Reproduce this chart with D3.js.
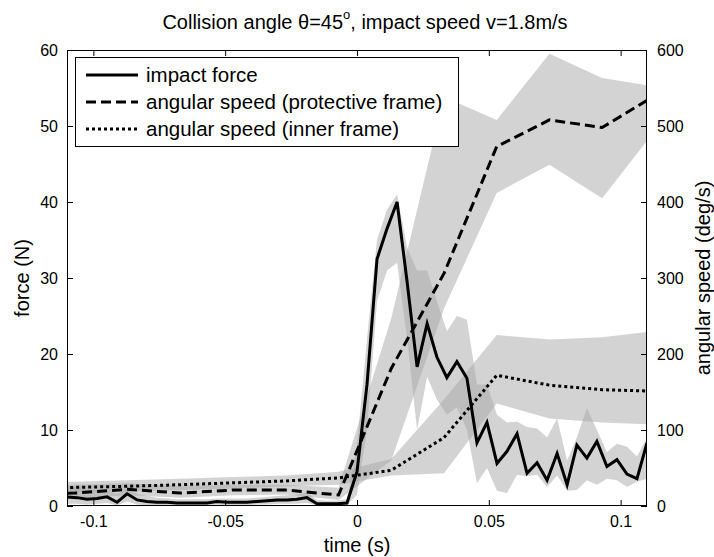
<!DOCTYPE html>
<html><head><meta charset="utf-8">
<script src="https://cdn.jsdelivr.net/npm/d3@7"></script>
<style>
body{margin:0;background:#fff}
svg{display:block}
text{font-family:"Liberation Sans",Arial,Helvetica,sans-serif;fill:#000}
</style>
</head><body>
<svg id="c" width="714" height="557"></svg>
<script>
// ---------- data ----------
const forceTime = [-0.11,-0.1062,-0.1024,-0.0986,-0.0948,-0.0910,-0.0872,-0.0834,-0.0797,-0.0759,
  -0.0721,-0.0683,-0.0645,-0.0607,-0.0569,-0.0531,-0.0493,-0.0455,-0.0417,-0.0379,
  -0.0341,-0.0303,-0.0266,-0.0228,-0.0190,-0.0152,-0.0114,-0.0076,-0.0038,0.0000,
  0.0038,0.0076,0.0114,0.0152,0.0190,0.0228,0.0266,0.0303,0.0341,0.0379,
  0.0417,0.0455,0.0493,0.0531,0.0569,0.0607,0.0645,0.0683,0.0721,0.0759,
  0.0797,0.0834,0.0872,0.0910,0.0948,0.0986,0.1024,0.1062,0.11];
const forceMean = [1.2,1.1,0.9,1.0,1.2,0.5,1.6,0.8,0.6,0.5,
  0.5,0.4,0.4,0.4,0.4,0.6,0.5,0.5,0.5,0.6,
  0.7,0.8,0.8,0.9,1.1,0.3,0.3,0.3,0.4,4.5,
  16,32.5,36.5,40,29.5,18.3,24,19.6,16.9,19,
  16.8,8.3,11,5.6,7.2,9.5,4.3,5.7,3.4,6.9,
  2.8,8.0,6.3,8.5,5.2,6.1,4.2,3.6,8.3];
const forceLow = [0.3,0.3,0.2,0.3,0.4,0.1,0.6,0.2,0.1,0.1,
  0.1,0.1,0.1,0.1,0.1,0.2,0.1,0.1,0.1,0.2,
  0.2,0.3,0.3,0.3,0.4,0.1,0.1,0.1,0.1,1.5,
  10,27,31,32,22,10,17,14,12,13,
  10,3,5,2,1.7,4.1,3.9,4.1,2.5,4,
  2.0,2.1,3.4,2.8,3.6,3.4,2.5,3.2,3.6];
const forceHigh = [2.6,2.4,2.2,2.0,2.0,1.6,2.2,1.6,1.3,1.1,
  1.0,0.9,0.9,0.9,0.9,1.0,1.0,1.0,1.0,1.1,
  1.2,1.3,1.4,1.5,1.8,0.8,0.7,0.7,0.9,8,
  22,35,39,41,34,31,31,27,23,25,
  24.5,16,16,12,11,11.1,10.4,10.2,9,11.5,
  6,9,12.9,10,7.1,8.2,7.8,6.5,9];

const angTime = [-0.127,-0.107,-0.087,-0.067,-0.047,-0.027,-0.007,0.013,0.033,0.053,0.073,0.093,0.113];
const protMean = [15,17,22,17,21,21,14.5,181,306,473,508,498,540];
const protLow  = [8,10,14,11,14,15,8,60,260,412,449,405,494];
const protHigh = [28,28,30,26,28,28,24,247,538,508,595,563,552];
const innerMean = [23,24.5,26,28,30.5,33,37,47,90,172,159,153,151];
const innerLow  = [16,18,19,21,23,26,28,40,43,135,115,110,107];
const innerHigh = [31,32,34,36,38,40,45,62,140,225,219,222,230];

const xTicks = [-0.1,-0.05,0,0.05,0.1];
const xTickLabels = ["-0.1","-0.05","0","0.05","0.1"];
const forceTicks = [0,10,20,30,40,50,60];
const angTicks = [0,100,200,300,400,500,600];
const legendLabels = ["impact force","angular speed (protective frame)","angular speed (inner frame)"];

// ---------- layout ----------
const m = {l:67, r:647, t:50, b:506};
const svg = d3.select('#c');
const x = d3.scaleLinear().domain([-0.11,0.11]).range([m.l,m.r]);
const yF = d3.scaleLinear().domain([0,60]).range([m.b,m.t]);
const yA = d3.scaleLinear().domain([0,600]).range([m.b,m.t]);

svg.append('defs').append('clipPath').attr('id','clip')
  .append('rect').attr('x',m.l).attr('y',m.t).attr('width',m.r-m.l).attr('height',m.b-m.t);

const plot = svg.append('g').attr('clip-path','url(#clip)');

const forceRows = forceTime.map((t,i)=>({t, v:forceMean[i], lo:forceLow[i], hi:forceHigh[i]}));
const protRows = angTime.map((t,i)=>({t, v:protMean[i], lo:protLow[i], hi:protHigh[i]}));
const innerRows = angTime.map((t,i)=>({t, v:innerMean[i], lo:innerLow[i], hi:innerHigh[i]}));

const bandFill = '#a7a7a7', bandOp = 0.5;
function band(rows, y){
  return d3.area().x(d=>x(d.t)).y0(d=>y(d.lo)).y1(d=>y(d.hi))(rows);
}
plot.append('path').attr('d', band(forceRows,yF)).attr('fill',bandFill).attr('fill-opacity',bandOp);
plot.append('path').attr('d', band(protRows,yA)).attr('fill',bandFill).attr('fill-opacity',bandOp);
plot.append('path').attr('d', band(innerRows,yA)).attr('fill',bandFill).attr('fill-opacity',bandOp);

function line(rows, y){ return d3.line().x(d=>x(d.t)).y(d=>y(d.v))(rows); }
plot.append('path').attr('d', line(innerRows,yA)).attr('fill','none').attr('stroke','#000')
  .attr('stroke-width',3).attr('stroke-dasharray','3,3');
plot.append('path').attr('d', line(protRows,yA)).attr('fill','none').attr('stroke','#000')
  .attr('stroke-width',3).attr('stroke-dasharray','10,5');
plot.append('path').attr('d', line(forceRows,yF)).attr('fill','none').attr('stroke','#000')
  .attr('stroke-width',3).attr('stroke-linejoin','miter');

// ---------- axes ----------
const tickFont = 16;
function styleAxis(g){
  g.selectAll('.domain').remove();
  g.selectAll('.tick line').attr('stroke','#000').attr('stroke-width',1);
  g.selectAll('.tick text').attr('font-size',tickFont).attr('font-family','"Liberation Sans",Arial,sans-serif');
}
svg.append('g').attr('transform',`translate(0,${m.b})`)
  .call(d3.axisBottom(x).tickValues(xTicks).tickFormat((d,i)=>xTickLabels[i]).tickSize(-6).tickPadding(10))
  .call(styleAxis);
svg.append('g').attr('transform',`translate(0,${m.t})`)
  .call(d3.axisTop(x).tickValues(xTicks).tickFormat('').tickSize(-6))
  .call(styleAxis);
svg.append('g').attr('transform',`translate(${m.l},0)`)
  .call(d3.axisLeft(yF).tickValues(forceTicks).tickFormat(d3.format('d')).tickSize(-6).tickPadding(9))
  .call(styleAxis);
svg.append('g').attr('transform',`translate(${m.r},0)`)
  .call(d3.axisRight(yA).tickValues(angTicks).tickFormat(d3.format('d')).tickSize(-6).tickPadding(10))
  .call(styleAxis);

svg.append('rect').attr('x',m.l+0.5).attr('y',m.t+0.5).attr('width',m.r-m.l-1).attr('height',m.b-m.t-1)
  .attr('fill','none').attr('stroke','#000').attr('stroke-width',1);

// ---------- labels ----------
const title = svg.append('text').attr('x',(m.l+m.r)/2 + 8).attr('y',29).attr('text-anchor','middle').attr('font-size',20);
title.append('tspan').text('Collision angle θ=45');
title.append('tspan').attr('font-size',13).attr('dy',-10).text('o');
title.append('tspan').attr('dy',10).text(', impact speed v=1.8m/s');

svg.append('text').attr('x',(m.l+m.r)/2).attr('y',552).attr('text-anchor','middle').attr('font-size',20).text('time (s)');
svg.append('text').attr('transform',`translate(29,${(m.t+m.b)/2}) rotate(-90)`).attr('text-anchor','middle').attr('font-size',20).text('force (N)');
svg.append('text').attr('transform',`translate(710,${(m.t+m.b)/2}) rotate(-90)`).attr('text-anchor','middle').attr('font-size',20).text('angular speed (deg/s)');

// ---------- legend ----------
const lg = svg.append('g');
lg.append('rect').attr('x',75.5).attr('y',57.5).attr('width',383).attr('height',89)
  .attr('fill','#fff').attr('stroke','#000').attr('stroke-width',1);
const dashes = [null,'10,5','3,3'];
const rowsY = [75,102,129];
legendLabels.forEach((lab,i)=>{
  lg.append('line').attr('x1',86).attr('x2',138).attr('y1',rowsY[i]).attr('y2',rowsY[i])
    .attr('stroke','#000').attr('stroke-width',3).attr('stroke-dasharray',dashes[i]);
  lg.append('text').attr('x',146).attr('y',rowsY[i]).attr('dy','0.35em').attr('font-size',20.5).text(lab);
});
</script>
</body></html>
